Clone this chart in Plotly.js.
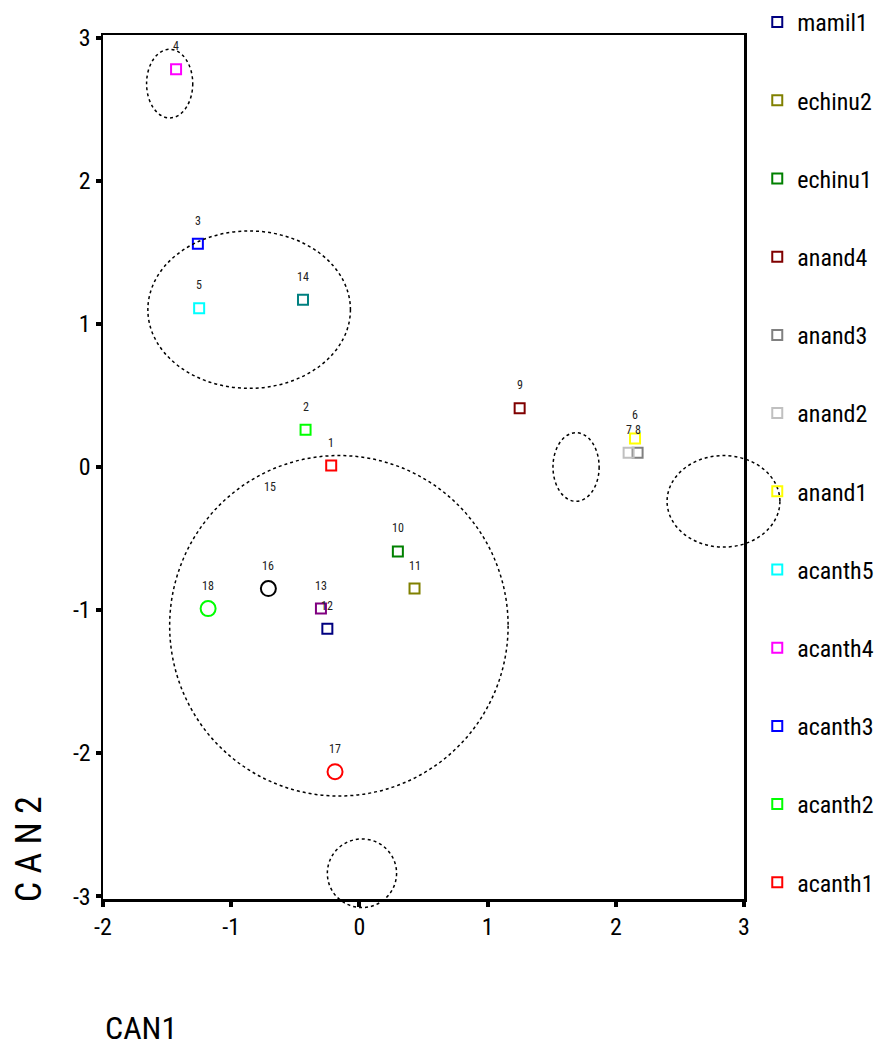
<!DOCTYPE html>
<html>
<head>
<meta charset="utf-8">
<script src="https://cdn.plot.ly/plotly-3.0.1.min.js"></script>
<style>
  html, body { margin: 0; padding: 0; background: #ffffff; }
  #chart { width: 879px; height: 1051px; }
</style>
</head>
<body>
<div id="chart"></div>
<script>
// ---- Data ----
// Grouped cases 1..12 (one per group)
const groupNames  = ['acanth1','acanth2','acanth3','acanth4','acanth5','anand1','anand2','anand3','anand4','echinu1','echinu2','mamil1'];
const groupColors = ['#ff0000','#00ff00','#0000ff','#ff00ff','#00ffff','#ffff00','#c0c0c0','#808080','#800000','#008000','#808000','#000080'];

// All cases 1..18 (CAN1, CAN2)
const caseLabels = ['1','2','3','4','5','6','7','8','9','10','11','12','13','14','15','16','17','18'];
const caseX = [-0.22,-0.42,-1.26,-1.43,-1.25, 2.15, 2.10, 2.17, 1.25, 0.30, 0.43,-0.25,-0.30,-0.44,-0.70,-0.71,-0.19,-1.18];
const caseY = [ 0.01, 0.26, 1.56, 2.78, 1.11, 0.20, 0.10, 0.10, 0.41,-0.59,-0.85,-1.13,-0.99, 1.17,-0.30,-0.85,-2.13,-0.99];

// Ungrouped cases (indices into case arrays), their colours and symbols
const extraIdx     = [12, 13, 15, 16, 17];
const extraColors  = ['#800080','#008080','#000000','#ff0000','#00ff00'];
const extraSymbols = ['square-open','square-open','circle-open','circle-open','circle-open'];

// Dotted group ellipses: centre and radii in CAN units
const ellCX = [-1.48, -0.86, -0.16, 1.69, 2.84, 0.02];
const ellCY = [ 2.68,  1.10, -1.11, 0.00,-0.24,-2.84];
const ellRX = [ 0.18,  0.79,  1.32, 0.18, 0.44, 0.27];
const ellRY = [ 0.24,  0.55,  1.19, 0.24, 0.32, 0.24];

const xTicks = [-2,-1,0,1,2,3];
const yTicks = [-3,-2,-1,0,1,2,3];
const xRange = [-2, 3];
const yRange = [-3.02, 3.02];

const FONT = 'Liberation Sans Narrow, Arial Narrow, Roboto Condensed, Liberation Sans, sans-serif';

// ---- Traces ----
const traces = [];
// legend lists the groups from mamil1 (top) down to acanth1 (bottom)
for (let i = groupNames.length - 1; i >= 0; i--) {
  traces.push({
    type: 'scatter', mode: 'markers',
    x: [caseX[i]], y: [caseY[i]],
    name: groupNames[i], legendgroup: groupNames[i],
    marker: { symbol: 'square-open', size: 10, color: groupColors[i], line: { width: 2, color: groupColors[i] } },
    hoverinfo: 'name+x+y'
  });
}
for (let k = 0; k < extraIdx.length; k++) {
  const i = extraIdx[k];
  const isCircle = extraSymbols[k] === 'circle-open';
  traces.push({
    type: 'scatter', mode: 'markers',
    x: [caseX[i]], y: [caseY[i]],
    name: 'case ' + caseLabels[i], showlegend: false,
    marker: { symbol: extraSymbols[k], size: isCircle ? 15 : 10, color: extraColors[k], line: { width: 2, color: extraColors[k] } }
  });
}

// Case number labels above each point
const annotations = caseLabels.map((t, i) => ({
  x: caseX[i], y: caseY[i], xref: 'x', yref: 'y',
  text: t, showarrow: false, yshift: 23,
  font: { family: FONT, size: 12, color: '#222' }
}));
// Axis titles (placed as in the reference)
annotations.push({
  xref: 'paper', yref: 'paper', x: 0.0, y: -0.149, xanchor: 'left', yanchor: 'middle',
  text: 'CAN1', showarrow: false, font: { family: FONT, size: 32, color: '#000' }
});
annotations.push({
  xref: 'paper', yref: 'paper', x: -0.115, y: 0.058, xanchor: 'center', yanchor: 'middle',
  text: 'C A N 2', textangle: -90, showarrow: false, font: { family: FONT, size: 36, color: '#000' }
});

// Ellipses: expressed on the axes' domain so they are not clipped at the frame
const toDX = v => (v - xRange[0]) / (xRange[1] - xRange[0]);
const toDY = v => (v - yRange[0]) / (yRange[1] - yRange[0]);
const shapes = ellCX.map((cx, i) => ({
  type: 'circle', xref: 'x domain', yref: 'y domain', layer: 'above',
  x0: toDX(cx - ellRX[i]), x1: toDX(cx + ellRX[i]),
  y0: toDY(ellCY[i] - ellRY[i]), y1: toDY(ellCY[i] + ellRY[i]),
  line: { color: '#000', width: 1.5, dash: 'dot' }
}));

const axisCommon = {
  showgrid: false, zeroline: false,
  showline: true, linecolor: '#000', linewidth: 2.5, mirror: true,
  ticks: 'outside', ticklen: 5, tickwidth: 4, tickcolor: '#000',
  tickfont: { family: FONT, size: 24, color: '#000' }
};

const layout = {
  width: 879, height: 1051,
  margin: { l: 103, r: 135, t: 35, b: 152 },
  paper_bgcolor: '#ffffff', plot_bgcolor: '#ffffff',
  font: { family: FONT, color: '#000' },
  xaxis: Object.assign({}, axisCommon, { range: xRange, tickvals: xTicks, ticktext: xTicks.map(String) }),
  yaxis: Object.assign({}, axisCommon, { range: yRange, tickvals: yTicks, ticktext: yTicks.map(String) }),
  showlegend: true,
  legend: {
    xref: 'container', yref: 'container',
    x: 0.8615, y: 1.0, xanchor: 'left', yanchor: 'top',
    traceorder: 'grouped', tracegroupgap: 44, maxheight: 1045,
    font: { family: FONT, size: 24, color: '#000' },
    bgcolor: 'rgba(0,0,0,0)', borderwidth: 0
  },
  annotations: annotations,
  shapes: shapes
};

Plotly.newPlot('chart', traces, layout, { displayModeBar: false, staticPlot: true });
</script>
</body>
</html>
